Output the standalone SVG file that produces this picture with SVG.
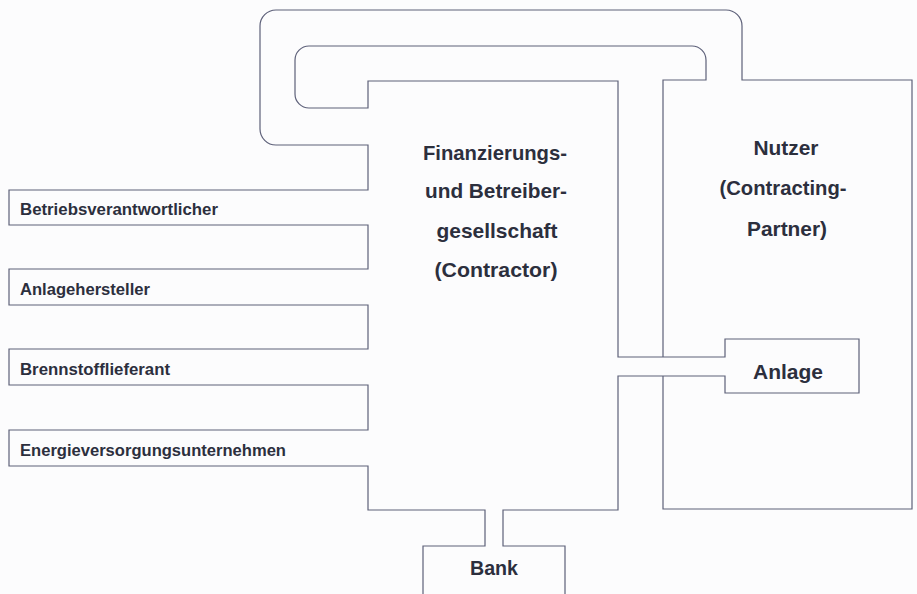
<svg xmlns="http://www.w3.org/2000/svg" width="917" height="594" viewBox="0 0 917 594">
<style>
.ln{fill:none;stroke:#5d6079;stroke-width:1.2;stroke-linejoin:miter}
.t{font-family:"Liberation Sans",Arial,sans-serif;font-weight:bold;fill:#2c2f3d}
.s{font-size:16px}
.b{font-size:21px;text-anchor:middle}
</style>
<rect width="917" height="594" fill="#fcfcfd"/>
<g id="connectors">
<path class="ln" d="M423,594 V546 H485 V510 H368 V466 H9 V430 H368 V385 H9 V349 H368 V305 H9 V269 H368 V225 H9 V190 H368 V145 H276 A16,16 0 0 1 260,129 V26 A16,16 0 0 1 276,10 H726 A16,16 0 0 1 742,26 V80 H912 V509 H663 V376"/>
<path class="ln" d="M565,594 V546 H503 V510 H618 V376 H725 V393 H859 V339 H725 V357 H618 V81 H368 V108 H309 A14,14 0 0 1 295,94 V60 A14,14 0 0 1 309,46 H692 A14,14 0 0 1 706,60 V80 H663 V357"/>
</g>
<g id="contractor">
<text class="t b" x="495" y="160" textLength="144" lengthAdjust="spacingAndGlyphs">Finanzierungs-</text>
<text class="t b" x="496" y="198" textLength="142" lengthAdjust="spacingAndGlyphs">und Betreiber-</text>
<text class="t b" x="497" y="238" textLength="121" lengthAdjust="spacingAndGlyphs">gesellschaft</text>
<text class="t b" x="496" y="277" textLength="123" lengthAdjust="spacingAndGlyphs">(Contractor)</text>
</g>
<g id="nutzer">
<text class="t b" x="786" y="155" textLength="65" lengthAdjust="spacingAndGlyphs">Nutzer</text>
<text class="t b" x="783" y="195" textLength="127" lengthAdjust="spacingAndGlyphs">(Contracting-</text>
<text class="t b" x="787" y="236" textLength="80" lengthAdjust="spacingAndGlyphs">Partner)</text>
</g>
<g id="anlage">
<text class="t b" x="788" y="379" textLength="70" lengthAdjust="spacingAndGlyphs">Anlage</text>
</g>
<g id="bank">
<text class="t b" x="494" y="575" textLength="48" lengthAdjust="spacingAndGlyphs">Bank</text>
</g>
<g id="betriebsverantwortlicher">
<text class="t s" x="20" y="215" textLength="198" lengthAdjust="spacingAndGlyphs">Betriebsverantwortlicher</text>
</g>
<g id="anlagehersteller">
<text class="t s" x="20" y="295" textLength="130" lengthAdjust="spacingAndGlyphs">Anlagehersteller</text>
</g>
<g id="brennstofflieferant">
<text class="t s" x="20" y="375" textLength="150" lengthAdjust="spacingAndGlyphs">Brennstofflieferant</text>
</g>
<g id="energieversorgungsunternehmen">
<text class="t s" x="20" y="456" textLength="266" lengthAdjust="spacingAndGlyphs">Energieversorgungsunternehmen</text>
</g>
</svg>
